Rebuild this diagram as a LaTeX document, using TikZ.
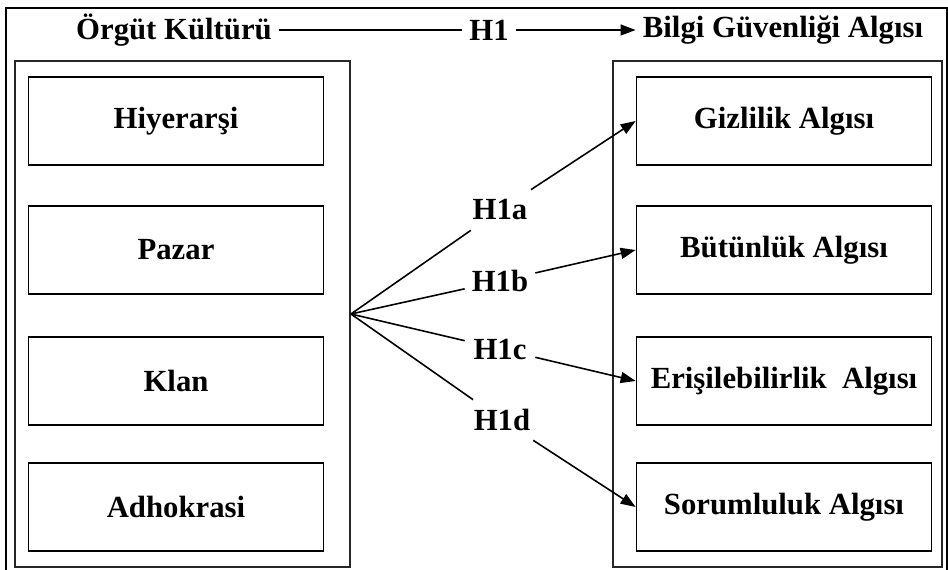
\documentclass[tikz,border=0pt]{standalone}
\usepackage{fontspec}
\setmainfont{Liberation Serif}
\usetikzlibrary{positioning, arrows.meta}
\newcommand{\boundarycolor}{black}
\newcommand{\groupcolor}{black!85}

\begin{document}
\begin{tikzpicture}[x=0.02cm,y=-0.02cm,font=\fontsize{17.5}{21}\selectfont\bfseries,
	itembox/.style={draw=\boundarycolor,line width=1pt,minimum width=5.9cm,minimum height=1.76cm,inner sep=0},
	groupbox/.style={draw=\groupcolor,line width=1.1pt,minimum height=10.12cm,inner sep=0},
	hyp/.style={inner sep=0,minimum width=1.4cm,minimum height=0.8cm},
	ttl/.style={inner sep=4pt},
	link/.style={draw=\boundarycolor,line width=0.9pt},
	tip/.style={-{Triangle[length=0.3cm,width=0.22cm]}}]
	\useasboundingbox (0,0) rectangle (948,570);
	\draw[line width=0.9pt] (6,575) -- (6,8) -- (947,8) -- (947,575);
	%%
	\node[ttl] (org) at (174,30) {Örgüt Kültürü};
	\node[ttl] (h1) at (489,30) {H1};
	\node[ttl] (bga) at (783,30) {Bilgi Güvenliği Algısı};
	\draw[link] (org) -- (h1);
	\draw[link,tip] (h1) -- (bga);
	%%
	\node[groupbox,minimum width=6.7cm] (orgbox) at (182.5,314) {};
	\node[groupbox,minimum width=6.58cm] (bgabox) at (777.5,314) {};
	%%
	\node[itembox] (hier) at (176,121) {Hiyerarşi};
	\node[itembox] (pazar) at (176,250) {Pazar};
	\node[itembox] (klan) at (176,381) {Klan};
	\node[itembox] (adho) at (176,507) {Adhokrasi};
	%%
	\node[itembox] (gizl) at (784,121) {Gizlilik Algısı};
	\node[itembox] (butun) at (784,250) {Bütünlük Algısı};
	\node[itembox] (eris) at (784,381) {Erişilebilirlik\ \ Algısı};
	\node[itembox] (sorum) at (784,507) {Sorumluluk Algısı};
	%%
	\node[hyp] (h1a) at (500,210) {H1a};
	\node[hyp] (h1b) at (500,281) {H1b};
	\node[hyp] (h1c) at (500,349) {H1c};
	\node[hyp] (h1d) at (502,420) {H1d};
	
	\foreach \h/\b in {h1a/gizl,h1b/butun,h1c/eris,h1d/sorum} {
		\draw[link] (orgbox.east) -- (\h);
		\draw[link,tip] (\h) -- (\b.west);
	}
\end{tikzpicture}
\end{document}
